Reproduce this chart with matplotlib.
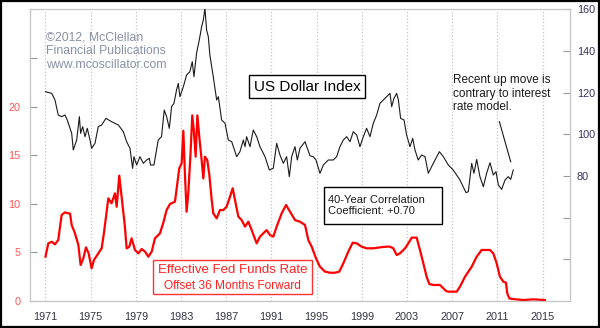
import matplotlib
matplotlib.use('Agg')
import matplotlib.pyplot as plt
from matplotlib.patches import Rectangle

plt.rcParams['font.family'] = ['Liberation Sans', 'DejaVu Sans']

# US Dollar Index (right axis)
usd_year = [1971.0, 1971.55, 1971.84, 1972.13, 1972.43, 1972.72, 1972.93, 1973.17, 1973.32, 1973.46,
            1973.61, 1973.76, 1974.0, 1974.11, 1974.29, 1974.5, 1974.7, 1974.94, 1975.08, 1975.38,
            1975.67, 1975.97, 1976.35, 1976.85, 1977.45, 1977.89, 1978.18, 1978.48, 1978.71, 1978.83,
            1979.07, 1979.36, 1979.66, 1979.95, 1980.19, 1980.3, 1980.6, 1980.98, 1981.27, 1981.51,
            1981.72, 1981.96, 1982.16, 1982.37, 1982.6, 1982.75, 1982.9, 1983.2, 1983.49, 1983.78,
            1983.99, 1984.14, 1984.37, 1984.61, 1984.82, 1984.97, 1985.11, 1985.26, 1985.41, 1985.55,
            1985.85, 1986.15, 1986.3, 1986.59, 1986.89, 1987.18, 1987.48, 1987.92, 1988.21, 1988.51,
            1988.66, 1988.8, 1989.1, 1989.39, 1989.69, 1989.98, 1990.43, 1990.81, 1991.16, 1991.46,
            1991.75, 1992.05, 1992.34, 1992.58, 1992.79, 1993.08, 1993.29, 1993.52, 1993.97, 1994.41,
            1994.7, 1994.94, 1995.29, 1995.59, 1996.03, 1996.47, 1996.77, 1997.06, 1997.36, 1997.65,
            1997.95, 1998.24, 1998.54, 1998.83, 1999.13, 1999.42, 1999.72, 2000.01, 2000.31, 2000.6,
            2000.9, 2001.19, 2001.49, 2001.64, 2001.84, 2002.08, 2002.23, 2002.43, 2002.73, 2002.96,
            2003.26, 2003.5, 2003.7, 2003.99, 2004.29, 2004.59, 2004.88, 2005.32, 2005.86, 2006.21,
            2006.65, 2007.09, 2007.68, 2008.22, 2008.42, 2008.72, 2008.92, 2009.16, 2009.45, 2009.75,
            2010.04, 2010.34, 2010.63, 2010.87, 2011.08, 2011.37, 2011.67, 2011.96, 2012.17, 2012.4]
usd_value = [120.5, 119.7, 116.5, 109.3, 108.5, 109.3, 106.9, 102.9, 100.5, 92.5,
             94.9, 97.3, 108.5, 100.5, 103.7, 98.9, 102.9, 97.3, 93.3, 95.7,
             103.7, 104.5, 107.7, 106.1, 104.5, 101.3, 96.5, 93.3, 83.7, 89.3,
             85.3, 89.3, 86.1, 87.7, 88.5, 85.3, 85.3, 97.3, 98.9, 111.7,
             108.5, 102.9, 113.3, 114.9, 121.3, 124.5, 118.1, 122.9, 128.5, 130.1,
             134.9, 127.7, 138.9, 145.3, 151.7, 154.9, 160.5, 150.1, 146.9, 138.0,
             127.7, 116.5, 118.1, 106.9, 105.3, 97.3, 96.5, 89.3, 91.7, 97.3,
             94.1, 98.9, 94.1, 102.1, 98.9, 94.1, 89.3, 82.9, 83.7, 95.7,
             90.1, 86.1, 89.3, 79.7, 89.3, 94.1, 87.7, 93.3, 96.5, 89.7,
             89.3, 87.7, 81.3, 85.3, 87.7, 87.7, 89.3, 94.1, 97.3, 98.9,
             96.5, 101.3, 99.7, 94.1, 98.9, 102.9, 98.9, 105.3, 109.3, 114.9,
             116.5, 118.1, 119.7, 113.3, 117.3, 119.7, 116.5, 107.7, 106.9, 99.7,
             94.1, 98.1, 92.5, 87.7, 90.1, 89.3, 81.3, 86.1, 91.7, 89.3,
             85.3, 82.9, 78.1, 72.0, 72.5, 86.1, 81.3, 88.0, 79.7, 74.9,
             81.3, 86.4, 80.5, 82.1, 75.7, 73.6, 78.1, 79.7, 78.4, 82.9]

# Effective Fed Funds Rate, offset 36 months forward (left axis)
fed_year = [1971.0, 1971.25, 1971.55, 1971.84, 1972.13, 1972.43, 1972.72, 1973.02, 1973.17, 1973.32,
            1973.61, 1973.91, 1974.11, 1974.35, 1974.58, 1974.82, 1975.08, 1975.29, 1975.67, 1975.97,
            1976.17, 1976.56, 1976.85, 1977.15, 1977.3, 1977.53, 1977.74, 1978.03, 1978.18, 1978.42,
            1978.62, 1978.92, 1979.22, 1979.51, 1979.81, 1980.1, 1980.4, 1980.69, 1981.13, 1981.43,
            1981.72, 1982.02, 1982.46, 1982.67, 1982.84, 1983.05, 1983.2, 1983.35, 1983.49, 1983.64,
            1983.85, 1983.99, 1984.14, 1984.29, 1984.44, 1984.61, 1984.82, 1984.97, 1985.11, 1985.32,
            1985.5, 1985.71, 1985.85, 1986.15, 1986.44, 1986.74, 1987.03, 1987.33, 1987.57, 1987.77,
            1988.07, 1988.36, 1988.66, 1988.95, 1989.25, 1989.69, 1989.98, 1990.28, 1990.57, 1990.87,
            1991.16, 1991.46, 1991.9, 1992.29, 1992.64, 1993.08, 1993.52, 1993.97, 1994.26, 1994.56,
            1994.94, 1995.29, 1995.74, 1996.18, 1996.62, 1997.0, 1997.36, 1997.8, 1998.19, 1998.54,
            1998.98, 1999.42, 2000.01, 2000.6, 2001.19, 2001.49, 2001.78, 2002.08, 2002.37, 2002.82,
            2003.11, 2003.41, 2003.85, 2004.14, 2004.44, 2004.73, 2004.97, 2005.32, 2005.91, 2006.45,
            2006.65, 2007.39, 2007.68, 2008.13, 2008.72, 2009.16, 2009.6, 2010.34, 2010.63, 2010.93,
            2011.22, 2011.52, 2011.75, 2011.87, 2012.05, 2012.4, 2013.29, 2014.17, 2015.2]
fed_rate = [4.56, 5.93, 6.1, 5.83, 6.28, 8.85, 9.12, 9.02, 9.0, 7.82,
            6.96, 5.76, 3.7, 4.39, 5.52, 4.9, 3.36, 4.22, 4.9, 5.42,
            6.96, 10.56, 10.05, 11.08, 9.7, 12.9, 10.73, 7.65, 5.42, 5.59,
            6.45, 5.25, 4.9, 5.35, 5.08, 4.56, 5.08, 6.45, 6.96, 8.06,
            9.36, 9.98, 10.22, 12.1, 13.65, 14.16, 17.52, 12.79, 9.19, 11.08,
            15.5, 19.1, 17.4, 14.85, 19.1, 16.9, 14.5, 12.6, 14.85, 14.5,
            13.0, 10.4, 9.02, 8.5, 9.36, 9.36, 9.7, 10.73, 11.6, 10.4,
            8.68, 8.33, 7.65, 8.16, 7.3, 5.93, 6.62, 6.96, 7.3, 6.79,
            6.62, 7.65, 9.02, 9.88, 9.19, 8.33, 8.16, 7.82, 6.28, 5.59,
            4.39, 3.53, 3.02, 2.91, 2.91, 3.02, 3.88, 5.08, 6.0, 5.93,
            5.59, 5.42, 5.42, 5.52, 5.59, 5.59, 5.42, 4.73, 4.9, 5.42,
            5.93, 6.52, 6.52, 5.25, 3.88, 2.5, 1.75, 1.65, 1.65, 1.03,
            0.96, 0.96, 1.47, 2.5, 3.53, 4.56, 5.25, 5.25, 4.9, 3.88,
            2.5, 1.99, 1.89, 0.79, 0.27, 0.2, 0.1, 0.17, 0.1]

year_ticks = list(range(1971, 2016, 4))
rate_ticks = [0, 5, 10, 15, 20, 25]
rate_labels = ['0', '5', '10', '15', '20', '']
usd_ticks = [40, 60, 80, 100, 120, 140, 160]
usd_labels = ['', '', '80', '100', '120', '140', '160']

fig = plt.figure(figsize=(6.0, 3.28), dpi=100)
ax = fig.add_axes([0.05, 0.0823, 0.9, 0.889])
ax2 = ax.twinx()

grey = '#c4c4c4'
ax.plot(fed_year, fed_rate, color='#ff0000', lw=1.6, zorder=3)
ax2.plot(usd_year, usd_value, color='#1a1a1a', lw=0.8, zorder=3)

ax.set_xlim(1969.63, 2017.42)
ax.set_ylim(0, 30)
ax2.set_ylim(20, 160)

ax.set_xticks(year_ticks)
ax.set_xticklabels([str(y) for y in year_ticks])
ax.grid(axis='x', color=grey, linestyle=':', lw=0.9)
ax.tick_params(axis='x', length=0, pad=8, labelsize=7.8, labelcolor='#333344')

ax.set_yticks(rate_ticks)
ax.set_yticklabels(rate_labels)
ax.tick_params(axis='y', direction='in', length=5, color='#999999', pad=7,
               labelsize=7.8, labelcolor='#ff5555')
ax2.set_yticks(usd_ticks)
ax2.set_yticklabels(usd_labels)
ax2.tick_params(axis='y', direction='in', length=5, color='#999999', pad=5,
                labelsize=7.8, labelcolor='#3a3060')

for a in (ax, ax2):
    for s in a.spines.values():
        s.set_color(grey)

# annotations
ax2.text(0.0296, 0.925, '©2012, McClellan\nFinancial Publications\nwww.mcoscillator.com',
         transform=ax2.transAxes, ha='left', va='top', fontsize=8.8, color='#8a90a8',
         linespacing=1.2, zorder=5)

ax2.add_patch(Rectangle((0.406, 0.695), 0.215, 0.079, transform=ax2.transAxes,
                        facecolor='white', edgecolor='black', lw=1.0, zorder=5))
ax2.text(0.513, 0.734, 'US Dollar Index', transform=ax2.transAxes, ha='center', va='center',
         fontsize=11, color='black', zorder=6)

ax2.text(0.783, 0.777, 'Recent up move is\ncontrary to interest\nrate model.',
         transform=ax2.transAxes, ha='left', va='top', fontsize=8.5, color='#1a1a1a',
         linespacing=1.15, zorder=5)
ax2.plot([2011.17, 2012.17], [106.1, 86.9], color='#1a1a1a', lw=0.8, zorder=5)

ax2.add_patch(Rectangle((0.545, 0.264), 0.218, 0.127, transform=ax2.transAxes,
                        facecolor='white', edgecolor='black', lw=1.0, zorder=5))
ax2.text(0.551, 0.3275, '40-Year Correlation\nCoefficient: +0.70', transform=ax2.transAxes,
         ha='left', va='center', fontsize=8.0, color='#1a1a1a', linespacing=1.2, zorder=6)

ax2.add_patch(Rectangle((0.228, 0.024), 0.294, 0.117, transform=ax2.transAxes,
                        facecolor='white', edgecolor='#ff3333', lw=1.0, zorder=5))
ax2.text(0.375, 0.106, 'Effective Fed Funds Rate', transform=ax2.transAxes,
         ha='center', va='center', fontsize=9.5, color='#ff2222', zorder=6)
ax2.text(0.375, 0.052, 'Offset 36 Months Forward', transform=ax2.transAxes,
         ha='center', va='center', fontsize=8.6, color='#ff2222', zorder=6)

# black frame around the whole picture
fig.add_artist(Rectangle((0.002, 0.003), 0.996, 0.994, transform=fig.transFigure,
                         fill=False, edgecolor='black', lw=1.6))

fig.savefig('out.png', dpi=100)
